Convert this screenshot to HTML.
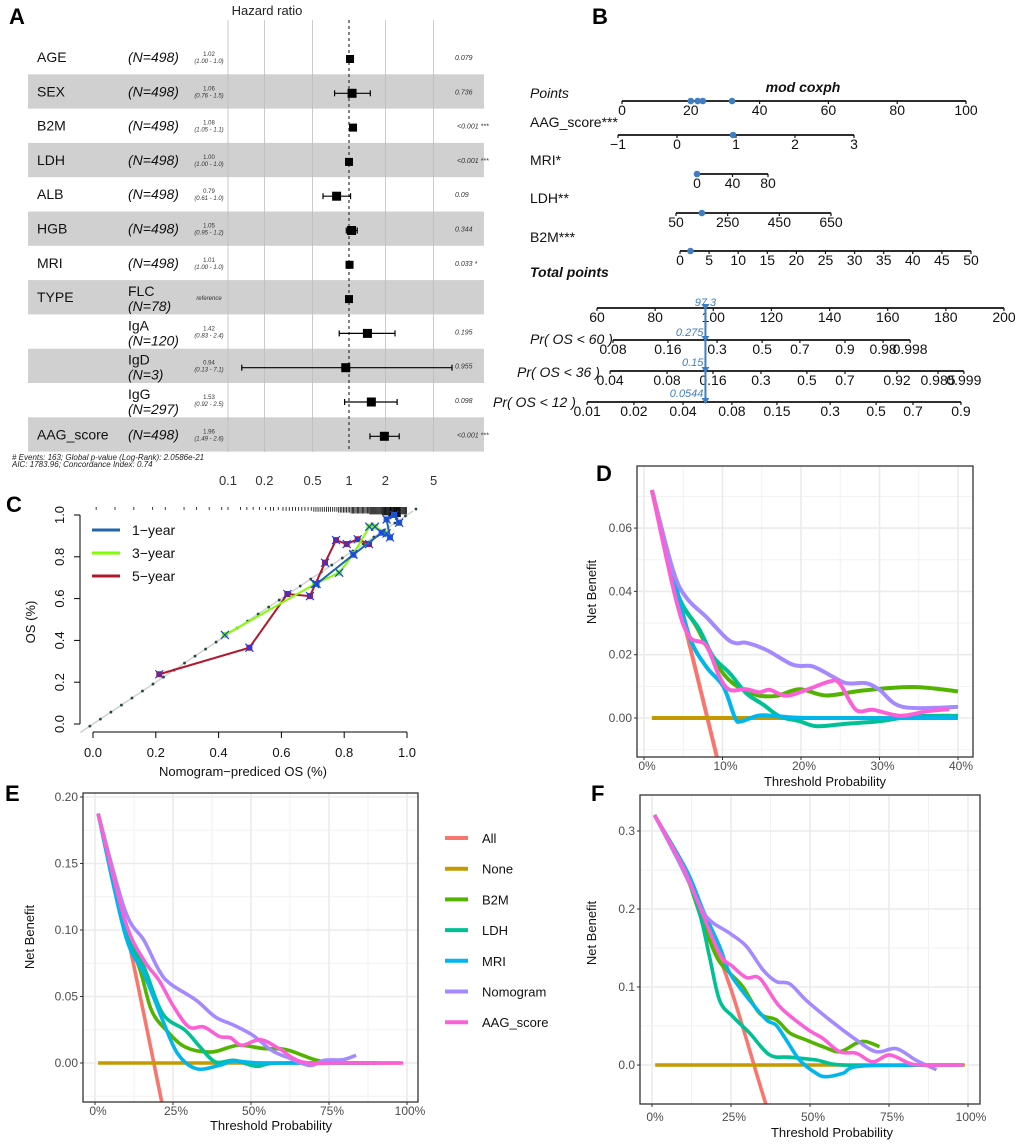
<!DOCTYPE html>
<html><head><meta charset="utf-8">
<style>
html,body{margin:0;padding:0;background:#fff;}
svg{display:block;font-family:"Liberation Sans",sans-serif;}
</style></head>
<body>
<svg id="fig" width="1020" height="1144" viewBox="0 0 1020 1144" xmlns="http://www.w3.org/2000/svg">
<defs>
<clipPath id="clipD"><rect x="637" y="466" width="336" height="291"/></clipPath>
<clipPath id="clipE"><rect x="83" y="793" width="335" height="309"/></clipPath>
<clipPath id="clipF"><rect x="640" y="795" width="340" height="309"/></clipPath>
</defs>
<g font-weight="bold" font-size="22" fill="#000">
<text x="9" y="24">A</text>
<text x="592" y="24">B</text>
<text x="6" y="512">C</text>
<text x="596" y="481">D</text>
<text x="5" y="801">E</text>
<text x="591" y="801">F</text>
</g>
<g id="A"></g>
<g id="B"></g>
<g id="C"></g>
<g id="D"></g>
<g id="E"></g>
<g id="F"></g>
</svg>
<script>
// ---------- Panel A data ----------
const fVars = ["AGE","SEX","B2M","LDH","ALB","HGB","MRI","TYPE","","","","AAG_score"];
const fLevels = ["","","","","","","","FLC","IgA","IgD","IgG",""];
const fN = ["(N=498)","(N=498)","(N=498)","(N=498)","(N=498)","(N=498)","(N=498)","(N=78)","(N=120)","(N=3)","(N=297)","(N=498)"];
const fHR = [1.02,1.06,1.08,1.00,0.79,1.05,1.01,1.00,1.42,0.94,1.53,1.96];
const fLo = [1.00,0.76,1.05,1.00,0.61,0.95,1.00,1.00,0.83,0.13,0.92,1.49];
const fHi = [1.04,1.5,1.11,1.01,1.03,1.17,1.02,1.00,2.4,7.1,2.5,2.6];
const fHRtxt = ["1.02","1.06","1.08","1.00","0.79","1.05","1.01","reference","1.42","0.94","1.53","1.96"];
const fCItxt = ["(1.00 - 1.0)","(0.76 - 1.5)","(1.05 - 1.1)","(1.00 - 1.0)","(0.61 - 1.0)","(0.95 - 1.2)","(1.00 - 1.0)","","(0.83 - 2.4)","(0.13 - 7.1)","(0.92 - 2.5)","(1.49 - 2.6)"];
const fP = ["0.079","0.736","<0.001 ***","<0.001 ***","0.09","0.344","0.033 *","","0.195","0.955","0.098","<0.001 ***"];
const fTicks = [0.1,0.2,0.5,1,2,5];

// ---------- Panel B data ----------
const nPointsTicks = [0,20,40,60,80,100];
const nPointsDots = [20,22,23.5,32];
const nAAGTicks = [-1,0,1,2,3];
const nAAGValue = 0.95;
const nMRITicks = [0,40,80];
const nMRIValue = 0;
const nLDHTicks = [50,250,450,650];
const nLDHValue = 150;
const nB2MTicks = [0,5,10,15,20,25,30,35,40,45,50];
const nB2MValue = 1.8;
const nTotalTicks = [60,80,100,120,140,160,180,200];
const nTotalValue = 97.3;
const nPr60Labels = ["0.08","0.16","0.3","0.5","0.7","0.9","0.98","0.998"];
const nPr60At = [65.5,84.4,101.3,116.8,129.8,145.3,158.4,167.7];
const nPr36Labels = ["0.04","0.08","0.16","0.3","0.5","0.7","0.92","0.985","0.999"];
const nPr36At = [64.5,84.1,99.9,116.4,132.2,145.3,163.2,177.3,186.2];
const nPr12Labels = ["0.01","0.02","0.04","0.08","0.15","0.3","0.5","0.7","0.9"];
const nPr12At = [56.6,72.7,89.6,106.4,121.9,140.2,156,168.7,185.2];
const nPrValues = ["0.275","0.15","0.0544"];

// ---------- Panel C data ----------
const cTicks = [0,0.2,0.4,0.6,0.8,1.0];
const c1x = [0.712,0.829,0.919,0.946,0.935,0.959,0.975];
const c1y = [0.67,0.81,0.915,0.893,0.979,1.0,0.963];
const c3x = [0.420,0.707,0.784,0.829,0.880,0.898,0.935];
const c3y = [0.426,0.67,0.724,0.813,0.944,0.944,0.912];
const c5x = [0.211,0.498,0.619,0.691,0.739,0.774,0.808,0.843,0.879];
const c5y = [0.238,0.365,0.622,0.612,0.772,0.880,0.861,0.884,0.861];
const cRugCounts = [1,0,0,1,0,0,1,0,0,1,0,1,0,0,1,0,1,0,1,0,1,1,0,1,1,1,1,1,2,1,2,2,2,2,2,3,3,3,3,4,4,5,5,5,6,6,7,8,9,6];

// ---------- Panels D/E/F data ----------
const seriesNames = ["All","None","B2M","LDH","MRI","Nomogram","AAG_score"];
const D_All_t=[1,9.4], D_All_v=[0.072,-0.0135];
const D_None_t=[1,40], D_None_v=[0,0];
const D_B2M_t=[1,4.1,6.7,9.2,11.3,14.3,16.9,19.8,23.2,27.9,34.3,40], D_B2M_v=[0.072,0.0404,0.0288,0.0173,0.011,0.0073,0.007,0.0091,0.0071,0.0087,0.0098,0.0084];
const D_LDH_t=[1,4.1,7.1,8.8,10.9,13,15.2,17.3,19.8,22,25.8,30,34.3,40], D_LDH_v=[0.072,0.0404,0.0278,0.0194,0.0142,0.0079,0.0042,0.0005,-0.001,-0.0026,-0.0018,-0.001,0.0005,0.0007];
const D_MRI_t=[1,3.7,5.8,7.9,10.1,11.6,12.4,14.7,17.3,21.5,40], D_MRI_v=[0.072,0.0456,0.0257,0.0163,0.01,0.0,-0.001,0.0008,0.0005,0,0];
const D_Nom_t=[1,3.7,5.4,7.9,10.5,11.8,13,15.6,19,21.5,24,25.8,28.3,30,33,40], D_Nom_v=[0.072,0.0467,0.038,0.032,0.0252,0.0236,0.0238,0.0215,0.0168,0.0163,0.0131,0.011,0.011,0.0089,0.0035,0.0035];
const D_AAG_t=[1,4.1,5.8,7.9,9.6,10.9,13,14.7,16,18.1,20.7,23.6,24.9,27,29.2,32.6,36,38.9], D_AAG_v=[0.072,0.0372,0.0257,0.023,0.0131,0.0089,0.0091,0.0081,0.0089,0.007,0.0089,0.0115,0.011,0.0026,0.0026,0.0007,0.0021,0.0028];

const E_All_t=[1,10,21.9], E_All_v=[0.1875,0.100,-0.035];
const E_None_t=[1,98], E_None_v=[0,0];
const E_B2M_t=[1,9.6,14.5,18.1,22.9,28.9,37.3,45.8,54.2,61.4,71.1,78.3,90.4], E_B2M_v=[0.1875,0.1023,0.0697,0.0396,0.0246,0.012,0.0083,0.0133,0.0108,0.01,0.002,0,0];
const E_LDH_t=[1,9.6,15.7,21.7,28.9,33.7,38.6,44.6,51.8,59,90.4], E_LDH_v=[0.1875,0.1023,0.0722,0.0371,0.0246,0.012,0.0008,0.002,-0.0025,0,0];
const E_MRI_t=[1,9.6,15.7,21.7,26.5,32.5,39.8,44.6,54.2,90.4], E_MRI_v=[0.1875,0.0972,0.0672,0.0321,0.007,-0.0043,-0.0018,0.0015,0,0];
const E_Nom_t=[1,9.6,15.7,20.5,24.1,32.5,38.6,44.6,50.6,56.6,61.4,68.7,73.5,79.5,83.7], E_Nom_v=[0.1875,0.1148,0.0922,0.0697,0.0596,0.0471,0.0346,0.0283,0.0208,0.0095,0.0045,-0.0018,0.002,0.0025,0.0058];
const E_AAG_t=[1,9.6,15.7,20.5,25.3,30.1,34.9,39.8,43.4,47,53,59,66.3,78.3,98.8], E_AAG_v=[0.1875,0.1073,0.0772,0.0622,0.0421,0.0271,0.0271,0.02,0.019,0.0133,0.0175,0.0108,0.0008,0,0];

const F_All_t=[0.8,8,15,20,25,29,33,36.4], F_All_v=[0.3205,0.265,0.204,0.153,0.097,0.045,-0.010,-0.055];
const F_None_t=[1,99], F_None_v=[0,0];
const F_B2M_t=[0.8,9.8,15.1,20.4,24.6,28.8,34.1,39.3,43.6,48.8,54.1,59.4,64.7,67.8,72], F_B2M_v=[0.3205,0.254,0.194,0.139,0.118,0.1,0.066,0.058,0.041,0.032,0.0235,0.017,0.028,0.03,0.0235];
const F_LDH_t=[0.8,9.8,15.1,18.2,21.4,25.6,30.9,37.2,43.6,52,60.4,85.8], F_LDH_v=[0.3205,0.254,0.194,0.139,0.083,0.062,0.041,0.013,0.01,0.0064,0,0];
const F_MRI_t=[0.8,10.9,16.1,21.4,24.6,30.9,36.2,39.3,42.5,46.7,52,55.1,60.4,66.8,98.4], F_MRI_v=[0.3205,0.25,0.199,0.152,0.118,0.083,0.058,0.051,0.032,0.0064,-0.0107,-0.015,-0.0107,-0.0013,0];
const F_Nom_t=[0.8,7.7,11.9,17.2,24.6,29.9,35.1,39.3,43.6,48.8,56.2,64.7,71,77.3,83.6,90], F_Nom_v=[0.3205,0.267,0.233,0.19,0.169,0.152,0.122,0.107,0.104,0.083,0.058,0.032,0.017,0.021,0.006,-0.006];
const F_AAG_t=[0.8,9.8,15.1,21.4,25.6,29.9,34.1,40.4,48.8,54.1,59.4,64.7,69.9,75.2,81.5,85.8,98.4], F_AAG_v=[0.3205,0.254,0.203,0.143,0.126,0.112,0.111,0.075,0.047,0.034,0.017,0.015,0.004,0.013,0.002,0,0];

const colors = {"All":"#F8766D","None":"#C49A00","B2M":"#53B400","LDH":"#00C094","MRI":"#00B6EB","Nomogram":"#A58AFF","AAG_score":"#FB61D7"};

const NS="http://www.w3.org/2000/svg";
function mk(parent,tag,attrs,text){const e=document.createElementNS(NS,tag);for(const k in attrs)e.setAttribute(k,attrs[k]);if(text!==undefined)e.textContent=text;parent.appendChild(e);return e;}
function smooth(p){let d='M'+p[0][0].toFixed(1)+','+p[0][1].toFixed(1);for(let i=0;i<p.length-1;i++){const p0=p[i-1]||p[i],p1=p[i],p2=p[i+1],p3=p[i+2]||p2;const c1=[p1[0]+(p2[0]-p0[0])/6,p1[1]+(p2[1]-p0[1])/6],c2=[p2[0]-(p3[0]-p1[0])/6,p2[1]-(p3[1]-p1[1])/6];d+=' C'+c1[0].toFixed(1)+','+c1[1].toFixed(1)+' '+c2[0].toFixed(1)+','+c2[1].toFixed(1)+' '+p2[0].toFixed(1)+','+p2[1].toFixed(1);}return d;}

// ================= Panel A =================
(function(){
const g=document.getElementById('A');
const fx=v=>349+121*Math.log10(v);
const rowTop=i=>40+34.3*i;
for(let i=0;i<fVars.length;i++){
  if(i%2===1){const r=mk(g,'rect',{x:28,y:rowTop(i),width:456,height:34.3,fill:'#D0D0D0'});
  
  }
}
fTicks.forEach(t=>{
  if(t===1)return;
  const l=mk(g,'line',{x1:fx(t),x2:fx(t),y1:20,y2:452,stroke:'#bdbdbd','stroke-width':0.8});
  
  
});
const ref=mk(g,'line',{x1:fx(1),x2:fx(1),y1:20,y2:452,stroke:'#333','stroke-width':1.2,'stroke-dasharray':'3,3'});


const tt=mk(g,'text',{x:267,y:15,'font-size':13,'text-anchor':'middle',fill:'#222'},'Hazard ratio');


fTicks.forEach(t=>{const e=mk(g,'text',{x:fx(t),y:485,'font-size':13,'text-anchor':'middle',fill:'#333'},String(t));

});
for(let i=0;i<fVars.length;i++){
  const cy=rowTop(i)+17;
  if(fVars[i]){const e=mk(g,'text',{x:37,y:cy+5,'font-size':14,fill:'#111'},fVars[i]);
  
  }
  if(fLevels[i]){
    const a=mk(g,'text',{x:128,y:cy-1,'font-size':14,fill:'#111'},fLevels[i]);
    
    
    const b=mk(g,'text',{x:128,y:cy+14,'font-size':14,'font-style':'italic',fill:'#111'},fN[i]);
    
    
  } else {
    const b=mk(g,'text',{x:128,y:cy+5,'font-size':14,'font-style':'italic',fill:'#111'},fN[i]);
    
    
  }
  if(fCItxt[i]){
    const h=mk(g,'text',{x:209,y:cy-1,'font-size':6,'text-anchor':'middle',fill:'#333'},fHRtxt[i]);
    
    
    const c=mk(g,'text',{x:209,y:cy+6,'font-size':6,'font-style':'italic','text-anchor':'middle',fill:'#333'},fCItxt[i]);
    
    
  } else {
    const h=mk(g,'text',{x:209,y:cy+3,'font-size':6,'font-style':'italic','text-anchor':'middle',fill:'#333'},fHRtxt[i]);
    
    
  }
  if(fP[i]){const p=mk(g,'text',{x:fP[i].startsWith('<')?457:455,y:cy+3,'font-size':7,'font-style':'italic',fill:'#333'},fP[i]);
  
  }
  const lo=fx(fLo[i]),hi=fx(fHi[i]);
  if(hi-lo>2){
    const l=mk(g,'line',{x1:lo,x2:hi,y1:cy+2,y2:cy+2,stroke:'#000','stroke-width':1.2});
    
    
    [lo,hi].forEach(x=>{const c=mk(g,'line',{x1:x,x2:x,y1:cy-1,y2:cy+5,stroke:'#000','stroke-width':1.2});
    
    });
  }
  const s=(i===0||i===3||i===6||i===7||i===2)?8:9;
  const sq=mk(g,'rect',{x:fx(fHR[i])-s/2,y:cy+2-s/2,width:s,height:s,fill:'#000'});
  
  
}
const f1=mk(g,'text',{x:12,y:460,'font-size':8,'font-style':'italic',fill:'#222'},'# Events: 163; Global p-value (Log-Rank): 2.0586e-21');


const f2=mk(g,'text',{x:12,y:467,'font-size':8,'font-style':'italic',fill:'#222'},'AIC: 1783.96; Concordance Index: 0.74');


})();

// ================= Panel B =================
(function(){
const g=document.getElementById('B');
const blue='#3F7EC4';
function label(txt,x,y,opts){const e=mk(g,'text',Object.assign({x:x,y:y,'font-size':14,fill:'#111'},opts||{}),txt);

return e;}
function axis(y,x0,x1,ticks,labels){
  const l=mk(g,'line',{x1:x0,x2:x1,y1:y,y2:y,stroke:'#111','stroke-width':1.8});
  
  
  ticks.forEach((x,i)=>{
    const t=mk(g,'line',{x1:x,x2:x,y1:y,y2:y+3,stroke:'#111','stroke-width':1.2});
    
    
    const tl=mk(g,'text',{x:x,y:y+14,'font-size':14,'text-anchor':'middle',fill:'#111'},labels[i]);
    
    
  });
}
function dot(x,y){const c=mk(g,'circle',{cx:x,cy:y,r:3.3,fill:blue});

}
const ttl=mk(g,'text',{x:803,y:92,'font-size':14,'font-weight':'bold','font-style':'italic','text-anchor':'middle',fill:'#111'},'mod coxph');


const px=v=>622+v*3.44;
label('Points',530,98,{'font-style':'italic'});
axis(101,px(0),px(100),nPointsTicks.map(px),nPointsTicks.map(String));
nPointsDots.forEach(v=>dot(px(v),101));
const ax=v=>618+(v+1)*59;
label('AAG_score***',530,127);
axis(135,ax(-1),ax(3),nAAGTicks.map(ax),nAAGTicks.map(v=>v<0?'\u22121':String(v)));
dot(ax(nAAGValue),135);
const mx=v=>697+v*(71/80);
label('MRI*',530,165);
axis(174,mx(0),mx(80),nMRITicks.map(mx),nMRITicks.map(String));
dot(mx(nMRIValue),174);
const lx=v=>676+(v-50)*(155/600);
label('LDH**',530,203);
axis(213,lx(50),lx(650),nLDHTicks.map(lx),nLDHTicks.map(String));
dot(lx(nLDHValue),213);
const bx=v=>680+v*(291/50);
label('B2M***',530,242);
axis(251,bx(0),bx(50),nB2MTicks.map(bx),nB2MTicks.map(String));
dot(bx(nB2MValue),251);
label('Total points',530,277,{'font-weight':'bold','font-style':'italic'});
const tx=v=>597+(v-60)*(407/140);
axis(308,tx(60),tx(200),nTotalTicks.map(tx),nTotalTicks.map(String));
label('Pr( OS < 60 )',530,344,{'font-style':'italic'});
axis(340,tx(nPr60At[0]),tx(nPr60At[nPr60At.length-1]),nPr60At.map(tx),nPr60Labels);
label('Pr( OS < 36 )',517,377,{'font-style':'italic'});
axis(371,tx(nPr36At[0]),tx(nPr36At[nPr36At.length-1]),nPr36At.map(tx),nPr36Labels);
label('Pr( OS < 12 )',493,407,{'font-style':'italic'});
axis(402,tx(nPr12At[0]),tx(nPr12At[nPr12At.length-1]),nPr12At.map(tx),nPr12Labels);
const vx=tx(nTotalValue);
const vl=mk(g,'line',{x1:vx,x2:vx,y1:308,y2:402,stroke:blue,'stroke-width':2});


[308,340,371,402].forEach(y=>{const t=mk(g,'path',{d:`M${vx-4},${y-4} L${vx+4},${y-4} L${vx},${y+2} Z`,fill:blue});

});
const v1=mk(g,'text',{x:vx,y:306,'font-size':11,'font-style':'italic','text-anchor':'middle',fill:blue},String(nTotalValue));


[[nPrValues[0],336],[nPrValues[1],366],[nPrValues[2],397]].forEach(a=>{
  const e=mk(g,'text',{x:vx-2,y:a[1],'font-size':11,'font-style':'italic','text-anchor':'end',fill:blue},a[0]);
  
  
});
})();

// ================= Panel C =================
(function(){
const g=document.getElementById('C');
const X=v=>93+v*314, Y=v=>724-v*209;
const al=mk(g,'line',{x1:80,x2:80,y1:Y(1),y2:Y(0),stroke:'#000','stroke-width':1});


const bl=mk(g,'line',{x1:X(0),x2:X(1),y1:732,y2:732,stroke:'#000','stroke-width':1});


cTicks.forEach(t=>{
  const a=mk(g,'line',{x1:74,x2:80,y1:Y(t),y2:Y(t),stroke:'#000'});
  
  
  const at=mk(g,'text',{x:0,y:0,'font-size':13,'text-anchor':'middle',fill:'#111',transform:`translate(64,${Y(t)}) rotate(-90)`},t.toFixed(1));
  
  
  const b=mk(g,'line',{x1:X(t),x2:X(t),y1:732,y2:738,stroke:'#000'});
  
  
  const bt=mk(g,'text',{x:X(t),y:757,'font-size':13,'text-anchor':'middle',fill:'#111'},t.toFixed(1));
  
  
});
const xt=mk(g,'text',{x:243,y:776,'font-size':13,'text-anchor':'middle',fill:'#111'},'Nomogram\u2212prediced OS (%)');


const yt=mk(g,'text',{x:0,y:0,'font-size':13,'text-anchor':'middle',fill:'#111',transform:'translate(35,622) rotate(-90)'},'OS (%)');


const diag=mk(g,'line',{x1:X(-0.04),y1:Y(-0.04),x2:X(1.02),y2:Y(1.02),stroke:'#d0d0d0','stroke-width':1.5});


for(let k=0;k<=31;k++){const v=-0.01+k*0.0335;const c=mk(g,'circle',{cx:X(v),cy:Y(v),r:1.4,fill:'#1f4b3f'});

}
cRugCounts.forEach((n,i)=>{
  for(let j=0;j<n;j++){
    const v=i*0.02+(j+0.5)*0.02/Math.max(n,1);
    const r=mk(g,'line',{x1:X(v),x2:X(v),y1:507,y2:507+2+n*0.9,stroke:'#000','stroke-width':0.8});
    
    
  }
});
const sets=[[c5x,c5y,'#B2182B','5-year'],[c3x,c3y,'#7FFF00','3-year'],[c1x,c1y,'#2166AC','1-year']];
sets.forEach(s=>{
  const pts=s[0].map((x,i)=>X(x)+','+Y(s[1][i])).join(' ');
  const pl=mk(g,'polyline',{points:pts,fill:'none',stroke:s[2],'stroke-width':2});
  
  
  s[0].forEach((x,i)=>{
    const cx=X(x),cy=Y(s[1][i]);
    const q=mk(g,'rect',{x:cx-3,y:cy-3,width:6,height:6,fill:s[2]});
    
    
    const xx=mk(g,'path',{d:`M${cx-4},${cy-4}L${cx+4},${cy+4}M${cx+4},${cy-4}L${cx-4},${cy+4}`,stroke:'#1a3cff','stroke-width':1.2});
    
    
  });
});
[['1\u2212year','#2166AC',530],['3\u2212year','#7FFF00',553],['5\u2212year','#B2182B',576]].forEach(l=>{
  const ln=mk(g,'line',{x1:92,x2:120,y1:l[2],y2:l[2],stroke:l[1],'stroke-width':3});
  
  
  const t=mk(g,'text',{x:132,y:l[2]+5,'font-size':14,fill:'#111'},l[0]);
  
  
});
})();

// ================= DCA panels =================
function dca(id,cfg,data){
  const g=document.getElementById(id);
  const X=t=>cfg.x0+t*cfg.xs, Y=v=>cfg.y0-v*cfg.ys;
  const bg=mk(g,'rect',{x:cfg.fx0,y:cfg.fy0,width:cfg.fx1-cfg.fx0,height:cfg.fy1-cfg.fy0,fill:'#fff'});
  
  
  cfg.xminor.forEach(t=>{const l=mk(g,'line',{x1:X(t),x2:X(t),y1:cfg.fy0,y2:cfg.fy1,stroke:'#F2F2F2','stroke-width':1});
  
  });
  cfg.yminor.forEach(t=>{const l=mk(g,'line',{x1:cfg.fx0,x2:cfg.fx1,y1:Y(t),y2:Y(t),stroke:'#F2F2F2','stroke-width':1});
  
  });
  cfg.xmajor.forEach(t=>{const l=mk(g,'line',{x1:X(t),x2:X(t),y1:cfg.fy0,y2:cfg.fy1,stroke:'#EBEBEB','stroke-width':1.6});
  
  
  const tk=mk(g,'line',{x1:X(t),x2:X(t),y1:cfg.fy1,y2:cfg.fy1+3,stroke:'#333'});
  
  
  const tl=mk(g,'text',{x:X(t)+3,y:cfg.xly,'font-size':12,'text-anchor':'middle',fill:'#4D4D4D'},t+'%');
  
  });
  cfg.ymajor.forEach(t=>{const l=mk(g,'line',{x1:cfg.fx0,x2:cfg.fx1,y1:Y(t),y2:Y(t),stroke:'#EBEBEB','stroke-width':1.6});
  
  
  const tk=mk(g,'line',{x1:cfg.fx0-3,x2:cfg.fx0,y1:Y(t),y2:Y(t),stroke:'#333'});
  
  
  const tl=mk(g,'text',{x:cfg.fx0-5,y:Y(t)+4,'font-size':12,'text-anchor':'end',fill:'#4D4D4D'},t.toFixed(cfg.ydec));
  
  });
  const cg=mk(g,'g',{'clip-path':`url(#${cfg.clip})`});
  
  
  data.forEach(s=>{
    const pts=s[1].map((t,i)=>[X(t),Y(s[2][i])]);
    const p=mk(cg,'path',{d:pts.length>2?smooth(pts):'M'+pts[0]+' L'+pts[1],fill:'none',stroke:colors[s[0]],'stroke-width':cfg.sw,'stroke-linecap':'butt','stroke-linejoin':'round'});
    
    
  });
  const fr=mk(g,'rect',{x:cfg.fx0,y:cfg.fy0,width:cfg.fx1-cfg.fx0,height:cfg.fy1-cfg.fy0,fill:'none',stroke:'#333','stroke-width':1.3});
  
  
  const xt=mk(g,'text',{x:cfg.xtx,y:cfg.xty,'font-size':13,'text-anchor':'middle',fill:'#111'},'Threshold Probability');
  
  
  const yt=mk(g,'text',{x:0,y:0,'font-size':13,'text-anchor':'middle',fill:'#111',transform:`translate(${cfg.ytx},${cfg.yty}) rotate(-90)`},'Net Benefit');
  
  
}
dca('D',{x0:644,xs:314/40,y0:718,ys:3165,fx0:637,fx1:973,fy0:466,fy1:757,clip:'clipD',sw:4,ydec:2,
  xmajor:[0,10,20,30,40],xminor:[5,15,25,35],ymajor:[0,0.02,0.04,0.06],yminor:[-0.01,0.01,0.03,0.05,0.07],
  xly:770,xtx:825,xty:786,ytx:596,yty:592},
  [["All",D_All_t,D_All_v],["None",D_None_t,D_None_v],["B2M",D_B2M_t,D_B2M_v],["LDH",D_LDH_t,D_LDH_v],["MRI",D_MRI_t,D_MRI_v],["Nomogram",D_Nom_t,D_Nom_v],["AAG_score",D_AAG_t,D_AAG_v]]);
dca('E',{x0:95,xs:3.12,y0:1063,ys:1330,fx0:83,fx1:418,fy0:793,fy1:1102,clip:'clipE',sw:3.6,ydec:2,
  xmajor:[0,25,50,75,100],xminor:[12.5,37.5,62.5,87.5],ymajor:[0,0.05,0.1,0.15,0.2],yminor:[-0.025,0.025,0.075,0.125,0.175],
  xly:1115,xtx:271,xty:1130,ytx:34,yty:937},
  [["All",E_All_t,E_All_v],["None",E_None_t,E_None_v],["B2M",E_B2M_t,E_B2M_v],["LDH",E_LDH_t,E_LDH_v],["MRI",E_MRI_t,E_MRI_v],["Nomogram",E_Nom_t,E_Nom_v],["AAG_score",E_AAG_t,E_AAG_v]]);
dca('F',{x0:652,xs:3.16,y0:1065,ys:780,fx0:640,fx1:980,fy0:795,fy1:1104,clip:'clipF',sw:3.6,ydec:1,
  xmajor:[0,25,50,75,100],xminor:[12.5,37.5,62.5,87.5],ymajor:[0,0.1,0.2,0.3],yminor:[-0.05,0.05,0.15,0.25],
  xly:1121,xtx:832,xty:1137,ytx:596,yty:933},
  [["All",F_All_t,F_All_v],["None",F_None_t,F_None_v],["B2M",F_B2M_t,F_B2M_v],["LDH",F_LDH_t,F_LDH_v],["MRI",F_MRI_t,F_MRI_v],["Nomogram",F_Nom_t,F_Nom_v],["AAG_score",F_AAG_t,F_AAG_v]]);
(function(){
  const g=document.getElementById('E');
  seriesNames.forEach((n,i)=>{
    const y=838+i*30.7;
    const l=mk(g,'line',{x1:445,x2:468,y1:y,y2:y,stroke:colors[n],'stroke-width':4});
    
    
    const t=mk(g,'text',{x:482,y:y+5,'font-size':13,fill:'#111'},n);
    
    
  });
})();
</script>
</body></html>
